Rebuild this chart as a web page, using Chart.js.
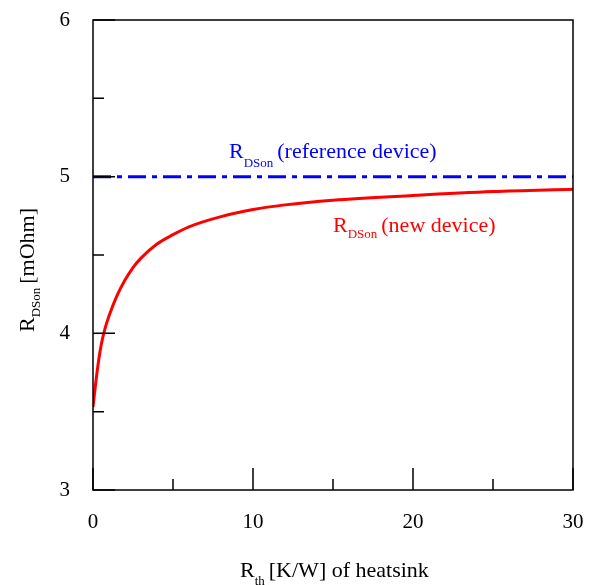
<!DOCTYPE html>
<html lang="en">
<head>
<meta charset="UTF-8">
<title>RDSon vs Rth of heatsink</title>
<script src="https://cdn.jsdelivr.net/npm/chart.js"></script>
<style>
  html, body { margin: 0; padding: 0; background: #fff; }
</style>
</head>
<body>
<canvas id="rdsChart" width="599" height="585"></canvas>
<script>
// values
const rth = [0, 0.25, 0.5, 0.75, 1, 1.5, 2, 2.5, 3, 4, 5, 6, 8, 10, 12, 15, 20, 25, 30];
const rdsNew = [3.53, 3.75, 3.92, 4.03, 4.11, 4.24, 4.34, 4.42, 4.48, 4.57, 4.63, 4.68, 4.745, 4.79, 4.82, 4.85, 4.88, 4.905, 4.92];
const rthRef = [0, 30];
const rdsRef = [5, 5];

const xTicks = [0, 10, 20, 30];
const xMinor = [5, 15, 25];
const yTicks = [3, 4, 5, 6];
const yMinor = [3.5, 4.5, 5.5];

const serif = '"Liberation Serif", "Times New Roman", serif';

// text with a subscript: main, sub, rest. x,y = start of baseline
function subText(ctx, x, y, main, sub, rest, size, subSize, drop) {
    ctx.font = size + 'px ' + serif;
    ctx.fillText(main, x, y);
    x += ctx.measureText(main).width;
    ctx.font = subSize + 'px ' + serif;
    ctx.fillText(sub, x, y + drop);
    x += ctx.measureText(sub).width + 4;
    ctx.font = size + 'px ' + serif;
    ctx.fillText(rest, x, y);
}

const framePlugin = {
    id: 'frame',
    afterDatasetsDraw(chart) {
        const { ctx, chartArea: a, scales: { x, y } } = chart;
        ctx.save();
        ctx.strokeStyle = '#000';
        ctx.lineWidth = 1.5;
        ctx.strokeRect(a.left, a.top, a.right - a.left, a.bottom - a.top);
        ctx.beginPath();
        xTicks.forEach(v => { const p = x.getPixelForValue(v); ctx.moveTo(p, a.bottom); ctx.lineTo(p, a.bottom - 22); });
        xMinor.forEach(v => { const p = x.getPixelForValue(v); ctx.moveTo(p, a.bottom); ctx.lineTo(p, a.bottom - 11); });
        yTicks.forEach(v => { const p = y.getPixelForValue(v); ctx.moveTo(a.left, p); ctx.lineTo(a.left + 22, p); });
        yMinor.forEach(v => { const p = y.getPixelForValue(v); ctx.moveTo(a.left, p); ctx.lineTo(a.left + 11, p); });
        ctx.stroke();

        ctx.textAlign = 'left';
        ctx.textBaseline = 'alphabetic';
        // series labels
        ctx.fillStyle = '#0000ff';
        subText(ctx, x.getPixelForValue(8.5), y.getPixelForValue(5.12), 'R', 'DSon', '(reference device)', 22, 13, 9);
        ctx.fillStyle = '#ff0000';
        subText(ctx, x.getPixelForValue(15), y.getPixelForValue(4.65), 'R', 'DSon', '(new device)', 22, 13, 6);

        // axis titles
        ctx.fillStyle = '#000';
        subText(ctx, 240, 577, 'R', 'th', '[K/W] of heatsink', 22, 13, 8);
        ctx.translate(34, 332);
        ctx.rotate(-Math.PI / 2);
        subText(ctx, 0, 0, 'R', 'DSon', '[mOhm]', 22, 13, 6);
        ctx.restore();
    }
};

const ctx = document.getElementById('rdsChart').getContext('2d');
new Chart(ctx, {
    type: 'line',
    data: {
        datasets: [{
            label: 'RDSon (reference device)',
            data: rthRef.map((v, i) => ({ x: v, y: rdsRef[i] })),
            borderColor: '#0000ff',
            borderWidth: 3,
            borderDash: [18, 6, 5, 6],
            pointRadius: 0,
            fill: false
        }, {
            label: 'RDSon (new device)',
            data: rth.map((v, i) => ({ x: v, y: rdsNew[i] })),
            borderColor: '#ff0000',
            borderWidth: 3,
            cubicInterpolationMode: 'monotone',
            pointRadius: 0,
            fill: false
        }]
    },
    options: {
        responsive: false,
        animation: false,
        layout: { padding: { top: 20, right: 26, left: 0, bottom: 0 } },
        plugins: { legend: { display: false }, tooltip: { enabled: false } },
        scales: {
            x: {
                type: 'linear',
                min: 0, max: 30,
                afterBuildTicks: s => { s.ticks = xTicks.map(v => ({ value: v })); },
                afterFit: s => { s.height = 95; s.paddingLeft = 0; s.paddingRight = 0; },
                grid: { display: false, drawTicks: false },
                border: { display: false },
                ticks: { color: '#000', padding: 20, font: { family: serif, size: 21 } }
            },
            y: {
                type: 'linear',
                min: 3, max: 6,
                afterBuildTicks: s => { s.ticks = yTicks.map(v => ({ value: v })); },
                afterFit: s => { s.width = 93; s.paddingTop = 0; s.paddingBottom = 0; },
                grid: { display: false, drawTicks: false },
                border: { display: false },
                ticks: { color: '#000', padding: 23, font: { family: serif, size: 21 } }
            }
        }
    },
    plugins: [framePlugin]
});
</script>
</body>
</html>
